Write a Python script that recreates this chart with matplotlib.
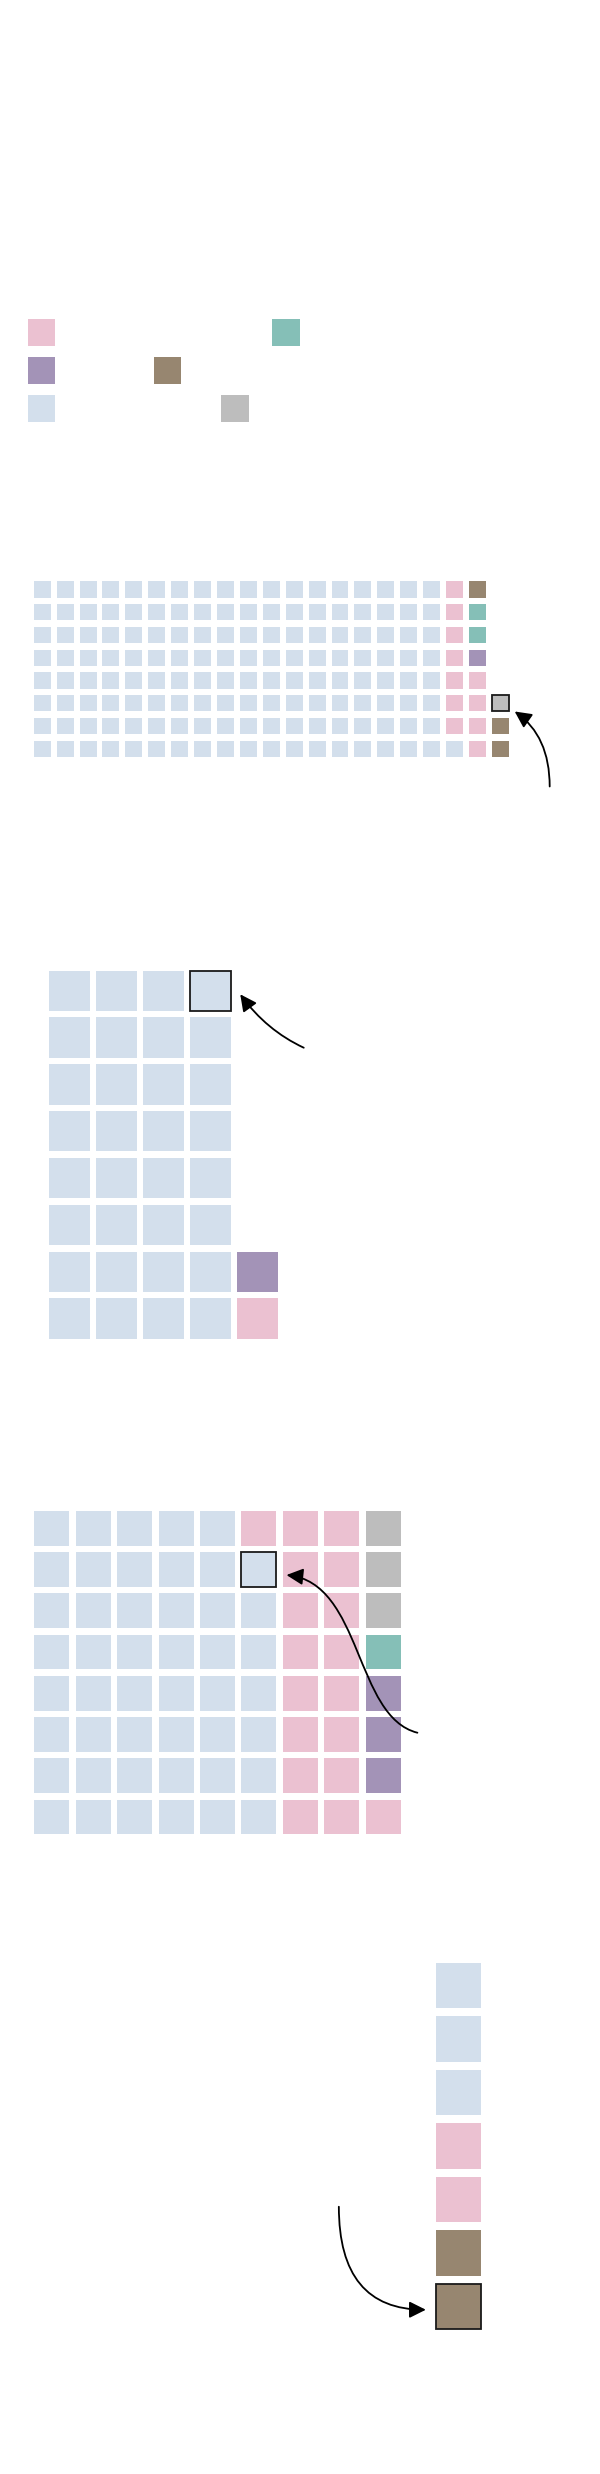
import matplotlib
matplotlib.use("Agg")
import matplotlib.pyplot as plt
from matplotlib.patches import Rectangle, ConnectionStyle
from matplotlib.path import Path

W, H = 600, 2474

categories = ["blue", "pink", "purple", "teal", "brown", "grey"]
palette = ["#d3dfec", "#ebc1d1", "#a393b7", "#85bfb7", "#978670", "#bdbdbd"]
colour = dict(zip(categories, palette))

# legend entries, row by row (labels are not shown in the picture)
legend_rows = [["pink", "teal"], ["purple", "brown"], ["blue", "grey"]]

# waffles, filled column by column from the bottom
w1_order = ["blue", "pink", "purple", "teal", "brown", "grey"]
w1_counts = [145, 11, 1, 2, 3, 1]
w1_mark = 162

w2_order = ["blue", "pink", "purple"]
w2_counts = [32, 1, 1]
w2_mark = 31

w3_order = ["blue", "pink", "purple", "teal", "grey"]
w3_counts = [47, 18, 3, 1, 3]
w3_mark = 46

w4_order = ["brown", "pink", "blue"]
w4_counts = [2, 2, 3]
w4_mark = 0


class SCurve(ConnectionStyle._Base):
    # cubic curve for the s-shaped pointer
    def connect(self, posA, posB):
        (xa, ya), (xb, yb) = posA, posB
        dx, dy = xb - xa, yb - ya
        verts = [(xa, ya), (xa + 0.48 * dx, ya + 0.10 * dy),
                 (xa + 0.42 * dx, ya + 0.95 * dy), (xb, yb)]
        return Path(verts, [Path.MOVETO, Path.CURVE4, Path.CURVE4, Path.CURVE4])


fig = plt.figure(figsize=(6, 24.74), dpi=100)
fig.patch.set_facecolor("white")


def px_axes(left, top, width, height):
    return fig.add_axes([left / W, 1 - (top + height) / H, width / W, height / H])


# legend
lax = px_axes(0, 0, W, H)
lax.set_xlim(0, W)
lax.set_ylim(H, 0)
lax.axis("off")
row_tops = [319, 357, 395]
second_x = [272.4, 153.8, 221.2]
for row, top, x2 in zip(legend_rows, row_tops, second_x):
    for cat, x in zip(row, [28.0, x2]):
        lax.add_patch(Rectangle((x, top), 27.3, 27, facecolor=colour[cat], edgecolor="none"))


def waffle(left, bottom, px, py, fw, fh, nrows, order, counts, mark):
    seq = [c for c, n in zip(order, counts) for _ in range(n)]
    ncols = -(-len(seq) // nrows)
    ax = px_axes(left, bottom - nrows * py, ncols * px, nrows * py)
    ax.set_xlim(0, ncols)
    ax.set_ylim(0, nrows)
    ax.axis("off")
    for i, cat in enumerate(seq):
        c, b = divmod(i, nrows)
        ax.add_patch(Rectangle((c, b), fw, fh, facecolor=colour[cat],
                               edgecolor="none", clip_on=False))
    c, b = divmod(mark, nrows)
    ax.add_patch(Rectangle((c, b), fw, fh, facecolor="none", edgecolor="#1a1a1a",
                           lw=1.3, zorder=3, clip_on=False))
    return ax, c, b


def pointer(ax, xy, offset, style):
    ax.annotate("", xy=xy, xytext=offset, textcoords="offset pixels",
                annotation_clip=False,
                arrowprops=dict(arrowstyle="-|>,head_length=1.0,head_width=0.5",
                                connectionstyle=style, color="black", lw=1.3,
                                shrinkA=0, shrinkB=0, mutation_scale=10))


ax, c, b = waffle(33.8, 757, 22.9, 22.76, 0.74, 0.716, 8, w1_order, w1_counts, w1_mark)
pointer(ax, (c + 1.0, b), (35, -75), "angle3,angleA=90,angleB=145")

ax, c, b = waffle(49.2, 1338.7, 47.0, 46.81, 0.859, 0.862, 8, w2_order, w2_counts, w2_mark)
pointer(ax, (c + 1.065, b + 0.357), (63.5, -53.4), "angle3,angleA=155,angleB=126")

ax, c, b = waffle(34.2, 1834.3, 41.45, 41.24, 0.844, 0.841, 8, w3_order, w3_counts, w3_mark)
pointer(ax, (c + 1.087, b + 0.287), (130.9, -157.7), SCurve())

ax, c, b = waffle(436.0, 2329.0, 53.5, 53.5, 0.849, 0.849, 7, w4_order, w4_counts, w4_mark)
pointer(ax, (c - 0.19, b + 0.36), (-87, 103), "angle3,angleA=90,angleB=0")

fig.savefig("out.png", dpi=100, facecolor="white")
